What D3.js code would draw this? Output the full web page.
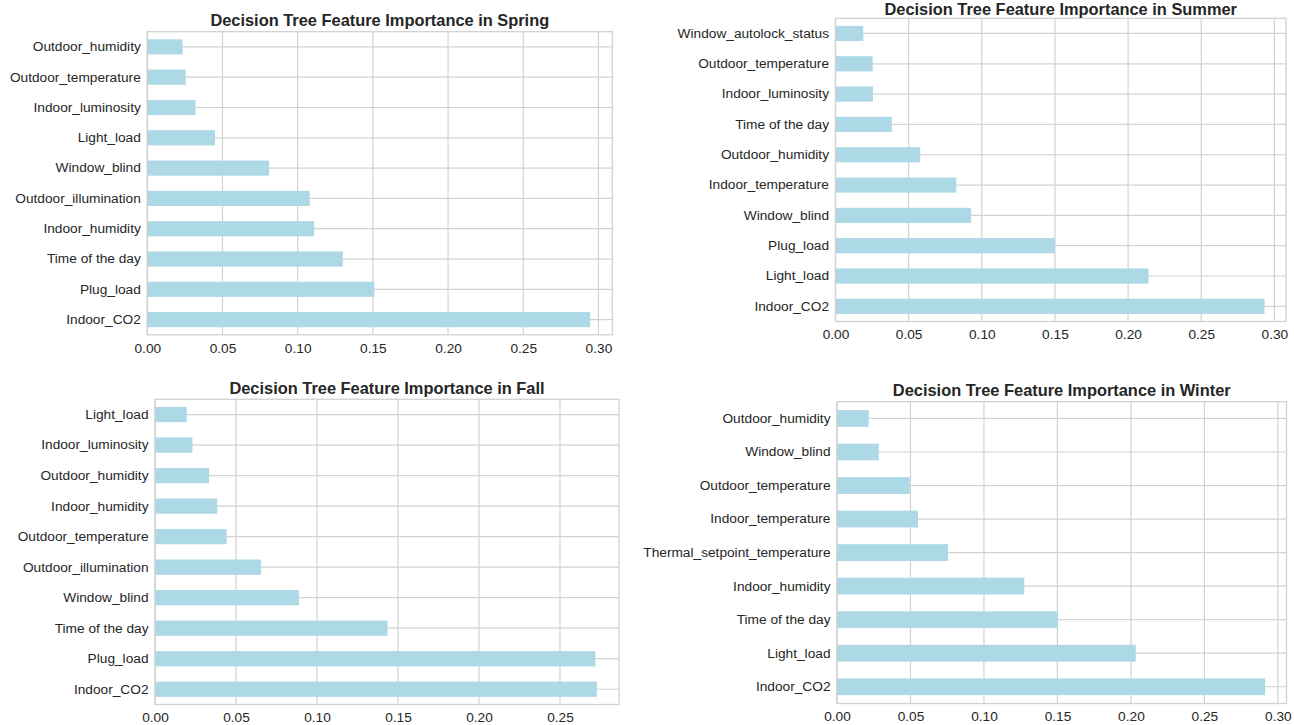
<!DOCTYPE html>
<html>
<head>
<meta charset="utf-8">
<script src="https://cdn.jsdelivr.net/npm/d3@7"></script>
<style>
  html, body { margin: 0; padding: 0; background: #ffffff; }
  svg { display: block; }
  text { font-family: "Liberation Sans", Arial, Helvetica, sans-serif; fill: #262626; }
</style>
</head>
<body>
<svg id="chart" width="1294" height="725"></svg>
<script>
// Feature importances per season, listed top row first.
const springFeatures = ["Outdoor_humidity", "Outdoor_temperature", "Indoor_luminosity", "Light_load", "Window_blind",
  "Outdoor_illumination", "Indoor_humidity", "Time of the day", "Plug_load", "Indoor_CO2"];
const springValues = [0.0235, 0.0255, 0.032, 0.045, 0.081, 0.108, 0.111, 0.130, 0.151, 0.2945];

const summerFeatures = ["Window_autolock_status", "Outdoor_temperature", "Indoor_luminosity", "Time of the day",
  "Outdoor_humidity", "Indoor_temperature", "Window_blind", "Plug_load", "Light_load", "Indoor_CO2"];
const summerValues = [0.019, 0.0254, 0.0256, 0.0385, 0.0579, 0.0826, 0.0927, 0.150, 0.2140, 0.2933];

const fallFeatures = ["Light_load", "Indoor_luminosity", "Outdoor_humidity", "Indoor_humidity", "Outdoor_temperature",
  "Outdoor_illumination", "Window_blind", "Time of the day", "Plug_load", "Indoor_CO2"];
const fallValues = [0.0196, 0.0231, 0.0334, 0.0384, 0.0442, 0.0655, 0.0889, 0.1436, 0.2718, 0.2728];

const winterFeatures = ["Outdoor_humidity", "Window_blind", "Outdoor_temperature", "Indoor_temperature",
  "Thermal_setpoint_temperature", "Indoor_humidity", "Time of the day", "Light_load", "Indoor_CO2"];
const winterValues = [0.0216, 0.0284, 0.0495, 0.0551, 0.0756, 0.1274, 0.1504, 0.2033, 0.2913];

const ticksTo030 = [0, 0.05, 0.10, 0.15, 0.20, 0.25, 0.30];
const ticksTo025 = [0, 0.05, 0.10, 0.15, 0.20, 0.25];

const titles = {
  spring: "Decision Tree Feature Importance in Spring",
  summer: "Decision Tree Feature Importance in Summer",
  fall: "Decision Tree Feature Importance in Fall",
  winter: "Decision Tree Feature Importance in Winter"
};

const panels = [
  { title: titles.spring, features: springFeatures, values: springValues, ticks: ticksTo030,
    box: { left: 147.3, right: 612.3, top: 31.7, bottom: 334.8 }, titleGap: 5.5 },
  { title: titles.summer, features: summerFeatures, values: summerValues, ticks: ticksTo030,
    box: { left: 835.5, right: 1286, top: 18.3, bottom: 321.5 }, titleGap: 3.3 },
  { title: titles.fall, features: fallFeatures, values: fallValues, ticks: ticksTo025,
    box: { left: 155, right: 619, top: 399.3, bottom: 704.5 }, titleGap: 5.5 },
  { title: titles.winter, features: winterFeatures, values: winterValues, ticks: ticksTo030,
    box: { left: 837, right: 1286.5, top: 401.7, bottom: 703.5 }, titleGap: 5.5 }
];

const BAR = "#add8e6";
const GRID = "#d2d2d2";
const fmt = d3.format(".2f");

const svg = d3.select("#chart");
svg.append("rect").attr("width", 1294).attr("height", 725).attr("fill", "#ffffff");

panels.forEach(p => {
  const b = p.box;
  const rows = p.features.map((f, i) => ({ feature: f, value: p.values[i] }));

  // x extends 5% beyond the largest bar, starting at zero
  const x = d3.scaleLinear()
    .domain([0, d3.max(p.values) * 1.05])
    .range([b.left, b.right]);

  // one slot per feature, bars fill half of each slot
  const y = d3.scaleBand()
    .domain(p.features)
    .range([b.top, b.bottom])
    .paddingInner(0.5)
    .paddingOuter(0.25);

  const g = svg.append("g");

  // grid lines
  g.append("g").selectAll("line.v")
    .data(p.ticks)
    .join("line")
    .attr("x1", d => x(d)).attr("x2", d => x(d))
    .attr("y1", b.top).attr("y2", b.bottom)
    .attr("stroke", GRID).attr("stroke-width", 1.2);

  g.append("g").selectAll("line.h")
    .data(p.features)
    .join("line")
    .attr("x1", b.left).attr("x2", b.right)
    .attr("y1", d => y(d) + y.bandwidth() / 2).attr("y2", d => y(d) + y.bandwidth() / 2)
    .attr("stroke", GRID).attr("stroke-width", 1.2);

  // bars
  g.append("g").selectAll("rect")
    .data(rows)
    .join("rect")
    .attr("x", x(0))
    .attr("y", d => y(d.feature))
    .attr("width", d => x(d.value) - x(0))
    .attr("height", y.bandwidth())
    .attr("fill", BAR);

  // frame
  g.append("rect")
    .attr("x", b.left).attr("y", b.top)
    .attr("width", b.right - b.left).attr("height", b.bottom - b.top)
    .attr("fill", "none").attr("stroke", GRID).attr("stroke-width", 1.3);

  // axes
  const xAxis = g.append("g")
    .attr("transform", `translate(0,${b.bottom})`)
    .call(d3.axisBottom(x).tickValues(p.ticks).tickFormat(fmt).tickSize(0).tickPadding(8));
  const yAxis = g.append("g")
    .attr("transform", `translate(${b.left},0)`)
    .call(d3.axisLeft(y).tickSize(0).tickPadding(6.5));

  [xAxis, yAxis].forEach(a => {
    a.select(".domain").remove();
    a.selectAll("text")
      .attr("fill", "#262626")
      .style("font-family", '"Liberation Sans", Arial, sans-serif')
      .style("font-size", "13.7px");
  });

  // title
  g.append("text")
    .attr("x", (b.left + b.right) / 2)
    .attr("y", b.top - p.titleGap)
    .attr("text-anchor", "middle")
    .style("font-size", "16.4px")
    .style("font-weight", "bold")
    .text(p.title);
});
</script>
</body>
</html>
